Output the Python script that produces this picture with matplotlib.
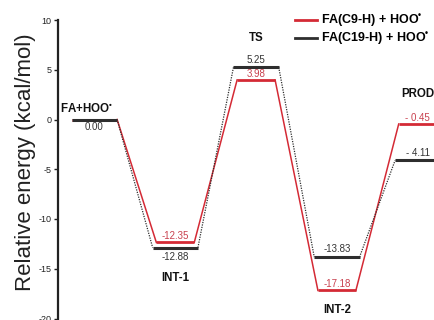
import matplotlib
matplotlib.use("Agg")
import matplotlib.pyplot as plt
from matplotlib.lines import Line2D

plt.rcParams['font.family'] = ['Liberation Sans', 'DejaVu Sans']
plt.rcParams['mathtext.fontset'] = 'custom'
plt.rcParams['mathtext.rm'] = 'Liberation Sans'
plt.rcParams['mathtext.it'] = 'Liberation Sans'
plt.rcParams['mathtext.bf'] = 'Liberation Sans:bold'

DOT = "$^{\\mathbf{\u2022}}$"
states = ["FA+HOO" + DOT, "INT-1", "TS", "INT-2", "PROD"]
red_energy = [0.00, -12.35, 3.98, -17.18, -0.45]
black_energy = [0.00, -12.88, 5.25, -13.83, -4.11]
red_text = ["", "-12.35", "3.98", "-17.18", "- 0.45"]
black_text = ["0.00", "-12.88", "5.25", "-13.83", "- 4.11"]
red_name = "FA(C9-H) + HOO" + DOT
black_name = "FA(C19-H) + HOO" + DOT

RED = "#d42a35"
BLK = "#2e2e2e"
RED_T = "#c8404e"
BLK_T = "#333333"

fig = plt.figure(figsize=(4.35, 3.2), dpi=100)
px_unit = 80.8
x0_px = 94.5
left_px = 58
xl = (left_px - x0_px) / px_unit
xr = 5.0
right_px = x0_px + xr * px_unit
y_top_px = 20.0
px_per_e = 9.95
ybot = -22
ybot_px = y_top_px + (10 - ybot) * px_per_e
ax = fig.add_axes([left_px / 435, 1 - ybot_px / 320,
                   (right_px - left_px) / 435, (ybot_px - y_top_px) / 320])
ax.set_xlim(xl, xr)
ax.set_ylim(ybot, 10)

hw_b = 0.28
hw_r = 0.235

n = len(states)
for i in range(n):
    hw = hw_b if i == 0 else hw_r
    ax.plot([i - hw, i + hw], [red_energy[i]] * 2, color=RED, lw=2.0,
            solid_capstyle='butt', zorder=3)
    if i < n - 1:
        ax.plot([i + hw, i + 1 - hw_r], [red_energy[i], red_energy[i + 1]],
                color=RED, lw=1.1, zorder=2)
for i in range(n):
    ax.plot([i - hw_b, i + hw_b], [black_energy[i]] * 2, color=BLK, lw=2.2,
            solid_capstyle='butt', zorder=4)
    if i < n - 1:
        ax.plot([i + hw_b, i + 1 - hw_b], [black_energy[i], black_energy[i + 1]],
                color=BLK, lw=0.9, ls=(0, (1, 1)), zorder=2)

fs_v = 7
ax.text(0, black_energy[0] - 0.75, black_text[0], ha='center', va='center',
        fontsize=fs_v, color=BLK_T)
ax.text(1, red_energy[1] + 0.6, red_text[1], ha='center', va='center',
        fontsize=fs_v, color=RED_T)
ax.text(1, black_energy[1] - 0.95, black_text[1], ha='center', va='center',
        fontsize=fs_v, color=BLK_T)
for i in (2, 3, 4):
    ax.text(i, black_energy[i] + 0.78, black_text[i], ha='center', va='center',
            fontsize=fs_v, color=BLK_T)
    ax.text(i, red_energy[i] + 0.62, red_text[i], ha='center', va='center',
            fontsize=fs_v, color=RED_T)

fs_n = 8.3
name_pos = [(-0.1, 1.05), (1, -15.9), (2, 8.15), (3, -19.1), (4, 2.55)]
for (xx, yy), s in zip(name_pos, states):
    ax.text(xx, yy, s, ha='center', va='center', fontsize=fs_n, fontweight='bold',
            color='#111111')

handles = [Line2D([], [], color=RED, lw=2.0), Line2D([], [], color=BLK, lw=2.0)]
fig.legend(handles, [red_name, black_name], loc='upper left',
           bbox_to_anchor=(295 / 435, 1 - 13 / 320), frameon=False,
           prop={'weight': 'bold', 'size': 9}, handlelength=1.75,
           handletextpad=0.3, labelspacing=0.0, borderpad=0, borderaxespad=0)

ax.set_ylabel("Relative energy (kcal/mol)", fontsize=16, color='#222222')
ax.yaxis.set_label_coords((36 - left_px) / (right_px - left_px), 0.5525)
ax.set_yticks([10, 5, 0, -5, -10, -15, -20])
ax.set_yticklabels(["10", "5", "0", "-5", "-10", "-15", "-20"])
ax.tick_params(axis='y', labelsize=6.5, length=3, width=1, pad=1.5, colors='#222222')
ax.set_xticks([])
for sp in ('top', 'right', 'bottom'):
    ax.spines[sp].set_visible(False)
ax.spines['left'].set_linewidth(1.6)
ax.spines['left'].set_color('#222222')
ax.spines['left'].set_bounds(ybot, 10)

fig.savefig("out.png", dpi=100)
